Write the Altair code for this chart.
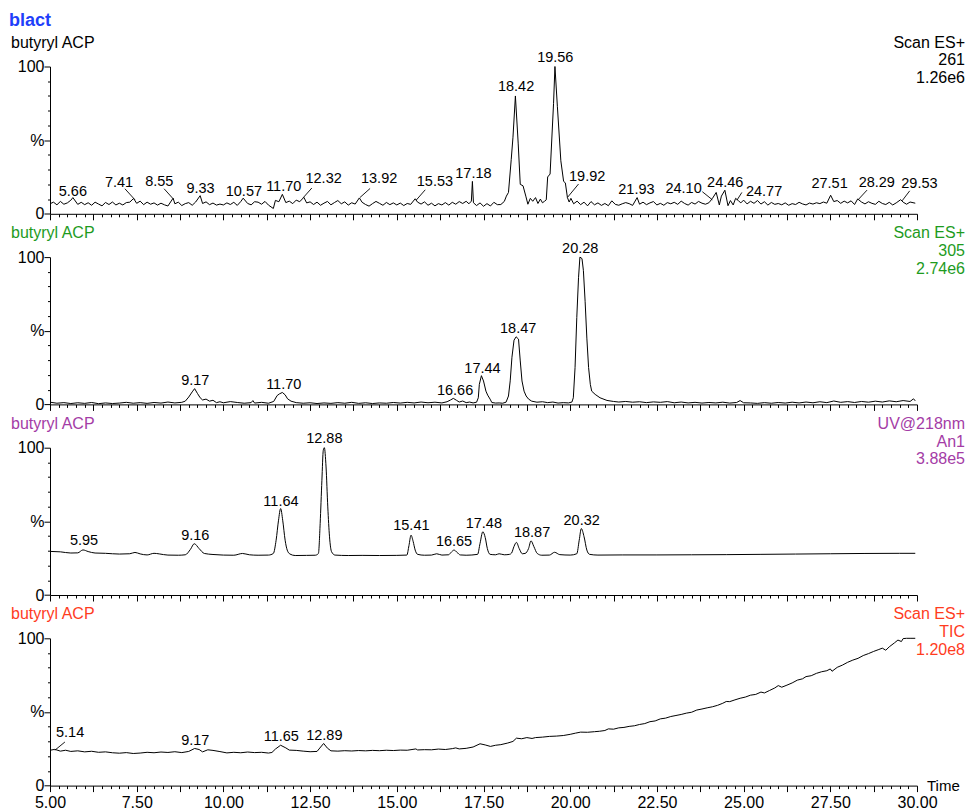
import altair as alt
import pandas as pd

FONT = "Liberation Sans"

# ---------------- data ----------------
# Panel 1: Scan ES+ 261
P1_T = [5.0, 5.1, 5.2, 5.3, 5.4, 5.5, 5.6, 5.66, 5.8, 5.9,
        6.0, 6.1, 6.2, 6.3, 6.4, 6.5, 6.6, 6.7, 6.8, 6.9,
        7.0, 7.1, 7.2, 7.3, 7.41, 7.5, 7.6, 7.7, 7.8, 7.9,
        8.0, 8.1, 8.2, 8.3, 8.4, 8.55, 8.6, 8.7, 8.8, 8.9,
        9.0, 9.1, 9.2, 9.33, 9.4, 9.5, 9.6, 9.7, 9.8, 9.9,
        10.0, 10.1, 10.2, 10.3, 10.4, 10.5, 10.57, 10.7, 10.8, 10.9,
        11.0, 11.1, 11.2, 11.3, 11.44, 11.5, 11.6, 11.70, 11.8, 11.9,
        12.0, 12.1, 12.2, 12.32, 12.4, 12.5, 12.6, 12.7, 12.8, 12.9,
        13.0, 13.1, 13.2, 13.3, 13.4, 13.5, 13.6, 13.7, 13.8, 13.92,
        14.0, 14.1, 14.2, 14.3, 14.4, 14.5, 14.6, 14.7, 14.8, 14.9,
        15.0, 15.1, 15.2, 15.3, 15.4, 15.53, 15.6, 15.7, 15.8, 15.9,
        16.0, 16.1, 16.2, 16.3, 16.4, 16.5, 16.6, 16.7, 16.8, 16.9,
        17.0, 17.08, 17.15, 17.18, 17.21, 17.3, 17.4, 17.5, 17.6, 17.7, 17.8, 17.9,
        18.0, 18.1, 18.16, 18.22, 18.30, 18.35, 18.42, 18.50, 18.56, 18.64, 18.72, 18.78, 18.85, 18.92,
        19.0, 19.07, 19.14, 19.2, 19.26, 19.31, 19.35, 19.42, 19.52, 19.56, 19.63, 19.73, 19.81, 19.86, 19.92, 19.97,
        20.02, 20.1, 20.2, 20.3, 20.4, 20.5, 20.6, 20.7, 20.8, 20.9,
        21.0, 21.1, 21.2, 21.3, 21.4, 21.5, 21.6, 21.7, 21.8, 21.93,
        22.0, 22.1, 22.2, 22.3, 22.4, 22.5, 22.6, 22.7, 22.8, 22.9,
        23.0, 23.1, 23.2, 23.3, 23.4, 23.5, 23.6, 23.7, 23.8, 23.9,
        24.0, 24.10, 24.21, 24.30, 24.36, 24.46, 24.55, 24.62, 24.70, 24.77, 24.85, 24.92,
        25.0, 25.1, 25.2, 25.3, 25.4, 25.5, 25.6, 25.7, 25.8, 25.9,
        26.0, 26.1, 26.2, 26.3, 26.4, 26.5, 26.6, 26.7, 26.8, 26.9,
        27.0, 27.1, 27.2, 27.3, 27.4, 27.51, 27.6, 27.7, 27.8, 27.9,
        28.0, 28.1, 28.2, 28.29, 28.4, 28.5, 28.6, 28.7, 28.8, 28.9,
        29.0, 29.1, 29.2, 29.3, 29.4, 29.53, 29.6, 29.7, 29.8, 29.95]
P1_V = [6.8, 7.9, 6.1, 8.4, 6.5, 7.4, 9.2, 11.0, 6.4, 7.8,
        6.2, 7.5, 5.8, 7.9, 6.6, 5.4, 7.7, 6.3, 8.0, 6.0,
        7.2, 6.0, 7.6, 7.9, 10.4, 7.1, 8.6, 6.2, 7.9, 6.5,
        7.4, 5.9, 7.2, 6.1, 5.3, 10.6, 6.8, 7.9, 5.6, 6.9,
        7.6, 5.8, 8.0, 12.3, 7.0, 8.1, 6.2, 7.3, 5.9, 6.6,
        6.0, 7.4, 6.3, 7.8, 5.7, 8.3, 10.6, 7.0, 6.1, 8.2,
        7.9, 6.5, 8.4, 5.9, 3.6, 9.1, 8.2, 13.2, 7.6, 8.6,
        6.9, 9.3, 8.2, 11.2, 7.4, 8.1, 6.3, 7.9, 5.8, 7.2,
        8.4, 6.1, 7.6, 9.0, 6.8, 8.1, 5.9, 7.5, 6.6, 10.8,
        7.8, 6.3, 5.2, 6.9, 8.4, 7.1, 5.8, 7.7, 6.2, 7.4,
        6.0, 7.3, 5.6, 7.0, 6.4, 10.2, 7.9, 6.6, 8.1, 5.8,
        7.2, 5.4, 6.9, 6.0, 7.6, 5.9, 7.8, 6.5, 8.3, 7.0,
        8.5, 6.8, 8.6, 22.0, 7.5, 5.6, 7.4, 5.1, 6.9, 5.3, 7.8, 6.2,
        6.3, 8.4, 12.0, 14.5, 37.0, 52.0, 80.0, 48.0, 20.0, 19.0, 12.0, 6.5, 10.5, 8.5,
        11.0, 7.0, 10.0, 7.5, 8.5, 9.5, 25.0, 27.0, 75.0, 100.0, 73.0, 36.0, 22.0, 21.0, 11.0, 8.0,
        10.5, 6.8, 8.6, 6.2, 7.9, 5.4, 8.3, 6.1, 7.4, 5.7,
        7.0, 5.5, 8.8, 6.4, 5.8, 6.8, 7.6, 6.9, 5.7, 11.0,
        6.5, 7.9, 6.2, 7.4, 8.3, 6.0, 7.1, 5.8, 7.6, 6.8,
        7.8, 6.4, 8.6, 7.0, 5.9, 7.7, 6.6, 8.4, 7.2, 6.5,
        7.5, 10.4, 14.5, 6.0, 12.0, 16.0, 5.5, 9.0, 6.0, 10.5, 8.9, 7.4,
        9.3, 6.7, 8.5, 7.1, 9.0, 6.6, 8.2, 5.9, 7.7, 6.4,
        7.0, 6.1, 7.4, 5.8, 6.9, 6.3, 7.8, 6.7, 6.0, 7.3,
        6.6, 7.5, 6.9, 8.0, 7.2, 12.6, 8.3, 9.0, 7.1, 8.6,
        7.4, 8.8, 6.3, 10.1, 8.0, 6.7, 8.2, 7.1, 6.4, 8.5,
        7.0, 6.3, 7.8, 6.0, 7.4, 9.6, 7.9, 6.5, 8.0, 7.2]

# Panel 2: Scan ES+ 305
P2_T = [5.0, 5.2, 5.4, 5.6, 5.8, 6.0, 6.2, 6.4, 6.6, 6.8,
        7.0, 7.2, 7.4, 7.6, 7.8, 8.0, 8.2, 8.4, 8.6, 8.8,
        8.9, 9.0, 9.1, 9.17, 9.25, 9.33, 9.4, 9.5, 9.6, 9.7,
        9.8, 9.9, 10.0, 10.2, 10.4, 10.6, 10.8, 10.85, 10.9, 11.1,
        11.3, 11.45, 11.55, 11.62, 11.70, 11.78, 11.85, 11.95, 12.1, 12.3,
        12.5, 12.7, 12.9, 13.1, 13.3, 13.5, 13.7, 13.9, 14.1, 14.3,
        14.5, 14.7, 14.9, 15.1, 15.3, 15.5, 15.7, 15.9, 16.1, 16.3,
        16.45, 16.55, 16.63, 16.72, 16.8, 16.9, 17.0, 17.1, 17.2, 17.3,
        17.35, 17.38, 17.44, 17.50, 17.57, 17.62, 17.69, 17.74, 17.85, 17.95,
        18.05, 18.15, 18.22, 18.27, 18.32, 18.38, 18.44, 18.51, 18.56, 18.61,
        18.67, 18.73, 18.80, 18.89, 19.04, 19.2, 19.35, 19.5, 19.65, 19.8,
        19.95, 20.05, 20.09, 20.14, 20.19, 20.24, 20.28, 20.34, 20.38, 20.43,
        20.48, 20.53, 20.58, 20.62, 20.72, 20.86, 21.06, 21.25, 21.4, 21.6,
        21.8, 22.0, 22.2, 22.4, 22.6, 22.8, 23.0, 23.2, 23.4, 23.6,
        23.8, 24.0, 24.2, 24.4, 24.6, 24.8, 24.9, 25.0, 25.2, 25.4,
        25.6, 25.8, 26.0, 26.2, 26.4, 26.6, 26.8, 27.0, 27.2, 27.4,
        27.6, 27.8, 28.0, 28.2, 28.4, 28.6, 28.8, 29.0, 29.2, 29.4,
        29.6, 29.8, 29.9, 29.95]
P2_V = [1.5, 0.8, 1.2, 0.6, 1.1, 0.7, 1.3, 0.5, 1.0, 0.6,
        0.9, 1.4, 0.8, 1.2, 0.7, 1.3, 0.9, 1.6, 1.0, 1.4,
        2.2, 5.0, 8.5, 10.7, 7.5, 4.5, 3.0, 3.6, 2.2, 2.8,
        1.2, 1.8, 1.1, 1.9, 1.3, 0.8, 1.2, 2.6, 0.9, 1.4,
        0.8, 2.0, 6.0, 7.2, 8.1, 6.5, 3.8, 2.2, 1.2, 0.8,
        1.1, 0.6, 1.0, 0.7, 1.2, 0.8, 1.4, 0.7, 1.1, 0.6,
        1.0, 0.8, 1.3, 0.9, 1.4, 1.0, 1.6, 1.1, 1.5, 1.0,
        1.8, 3.0, 4.1, 2.8, 1.6, 2.3, 1.2, 1.6, 1.0, 1.5,
        4.5, 13.6, 19.5, 15.9, 9.0, 6.3, 3.6, 1.3, 0.9, 1.0,
        0.8, 1.5, 5.7, 16.0, 32.0, 43.6, 45.9, 44.3, 29.5, 15.9,
        9.0, 5.7, 3.6, 2.2, 1.5, 1.8, 1.2, 1.6, 0.9, 1.2,
        1.0, 1.6, 4.5, 25.0, 59.0, 86.0, 100.0, 99.0, 91.0, 70.0,
        45.0, 25.0, 13.6, 9.0, 6.8, 4.5, 2.7, 2.0, 1.6, 2.0,
        1.5, 1.8, 1.2, 1.7, 1.4, 1.9, 1.1, 1.6, 1.0, 1.4,
        0.9, 1.3, 1.0, 1.5, 0.9, 1.3, 2.6, 1.1, 1.0, 0.7,
        1.2, 0.8, 1.3, 0.9, 1.5, 1.0, 1.6, 1.1, 1.8, 1.2,
        2.3, 1.4, 1.9, 1.3, 2.0, 1.5, 2.2, 1.6, 2.4, 1.8,
        2.6, 2.0, 3.8, 2.4]

# Panel 3: UV@218nm An1
P3_T = [5.0, 5.3, 5.6, 5.8, 5.95, 6.1, 6.3, 6.6, 7.0, 7.3,
        7.45, 7.6, 7.8, 8.0, 8.15, 8.4, 8.7, 8.9, 9.05, 9.16,
        9.3, 9.45, 9.7, 10.0, 10.3, 10.55, 10.75, 11.0, 11.3, 11.44,
        11.52, 11.59, 11.65, 11.71, 11.78, 11.84, 11.92, 12.07, 12.4, 12.65,
        12.74, 12.79, 12.84, 12.88, 12.91, 12.96, 13.01, 13.06, 13.12, 13.22,
        13.6, 14.0, 14.5, 15.0, 15.29, 15.35, 15.41, 15.47, 15.53, 15.6,
        15.8, 16.0, 16.15, 16.3, 16.49, 16.58, 16.65, 16.74, 16.83, 17.0,
        17.33, 17.40, 17.48, 17.55, 17.61, 17.69, 17.85, 17.95, 18.1, 18.25,
        18.31, 18.38, 18.45, 18.53, 18.62, 18.70, 18.80, 18.87, 18.95, 19.05,
        19.18, 19.4, 19.55, 19.7, 20.0, 20.19, 20.26, 20.32, 20.40, 20.48,
        20.56, 20.8, 21.5, 22.5, 23.5, 24.5, 25.5, 26.5, 27.5, 28.5,
        29.5, 29.95]
P3_V = [29.6, 29.3, 28.5, 28.6, 30.6, 29.5, 28.5, 28.3, 27.8, 28.0,
        28.9, 27.9, 27.2, 28.3, 27.9, 27.1, 27.0, 27.3, 31.0, 34.8,
        31.5, 28.2, 27.5, 27.1, 27.0, 28.2, 27.3, 27.0, 27.1, 28.2,
        37.2, 50.8, 58.7, 50.8, 37.2, 30.5, 27.8, 26.8, 26.9, 27.0,
        28.2, 48.5, 77.9, 98.2, 100.0, 86.9, 59.8, 39.5, 29.3, 27.1,
        26.8, 26.9, 26.8, 26.9, 27.1, 33.5, 40.6, 36.5, 30.5, 27.6,
        27.0, 27.1, 28.0, 27.1, 27.3, 29.3, 30.5, 28.9, 27.2, 27.0,
        27.6, 35.0, 42.9, 39.0, 31.6, 27.6, 27.3, 28.0, 27.3, 27.6,
        28.5, 33.0, 35.7, 31.5, 28.0, 28.2, 31.6, 36.8, 33.0, 28.2,
        27.0, 27.1, 29.0, 27.4, 27.1, 28.0, 37.2, 45.1, 39.5, 30.5,
        27.6, 27.1, 27.2, 27.2, 27.3, 27.4, 27.6, 27.8, 28.0, 28.2,
        28.3, 28.3]

# Panel 4: Scan ES+ TIC
P4_T = [5.0, 5.14, 5.3, 5.45, 5.6, 5.8, 6.0, 6.2, 6.4, 6.6,
        6.8, 7.0, 7.2, 7.4, 7.6, 7.8, 8.0, 8.2, 8.4, 8.6,
        8.8, 9.0, 9.17, 9.3, 9.4, 9.55, 9.7, 9.9, 10.1, 10.3,
        10.5, 10.7, 10.9, 11.1, 11.3, 11.4, 11.5, 11.65, 11.8, 11.9,
        12.1, 12.3, 12.5, 12.7, 12.78, 12.89, 13.0, 13.1, 13.3, 13.5,
        13.7, 13.9, 14.1, 14.3, 14.5, 14.7, 14.9, 15.1, 15.3, 15.55,
        15.6, 15.8, 16.0, 16.2, 16.4, 16.6, 16.7, 16.8, 17.0, 17.2,
        17.4, 17.55, 17.7, 17.85, 18.0, 18.2, 18.35, 18.45, 18.6, 18.75,
        18.9, 19.0, 19.2, 19.4, 19.6, 19.8, 20.0, 20.15, 20.3, 20.5,
        20.7, 20.85, 21.0, 21.1, 21.25, 21.4, 21.55, 21.7, 21.85, 22.0,
        22.15, 22.3, 22.45, 22.6, 22.75, 22.9, 23.05, 23.2, 23.35, 23.5,
        23.65, 23.8, 23.95, 24.1, 24.25, 24.4, 24.5, 24.6, 24.75, 24.9,
        25.05, 25.2, 25.35, 25.5, 25.6, 25.75, 25.9, 26.0, 26.1, 26.25,
        26.4, 26.55, 26.7, 26.8, 26.95, 27.1, 27.25, 27.4, 27.5, 27.55,
        27.7, 27.85, 28.0, 28.15, 28.3, 28.45, 28.6, 28.75, 28.9, 29.0,
        29.1, 29.2, 29.35, 29.45, 29.55, 29.6, 29.7, 29.8, 29.95]
P4_V = [24.0, 24.6, 23.4, 24.0, 23.2, 23.6, 22.9, 23.3, 22.6, 22.9,
        22.3, 22.0, 22.4, 21.8, 22.1, 22.6, 22.3, 22.8, 22.5, 23.0,
        22.4, 23.2, 25.2, 24.5, 22.9, 24.3, 23.9, 23.1, 22.2, 22.6,
        22.3, 22.8, 22.4, 22.6, 22.1, 22.5, 24.8, 27.4, 25.6, 24.1,
        23.9, 23.4, 23.0, 23.2, 25.5, 28.6, 25.4, 23.6, 23.4, 23.7,
        23.5, 23.8, 23.6, 23.9, 23.7, 24.0, 23.8, 24.1, 24.0, 24.9,
        24.2, 24.4, 24.3, 24.8, 24.5, 25.1, 25.6, 24.9, 25.3, 26.2,
        28.4, 27.6, 26.6, 27.4, 27.8, 28.9, 30.0, 32.2, 31.8, 32.6,
        32.0, 32.6, 32.9, 33.4, 33.6, 34.0, 34.8, 35.6, 36.3, 36.2,
        36.6, 36.9, 37.4, 38.5, 38.3, 39.2, 39.5, 40.2, 40.6, 41.5,
        42.1, 43.4, 43.9, 45.3, 45.8, 46.9, 47.6, 48.3, 49.2, 49.8,
        51.3, 52.0, 52.8, 53.5, 54.5, 55.9, 57.1, 57.0, 58.2, 59.3,
        60.1, 61.4, 61.9, 63.5, 62.9, 64.6, 66.3, 67.9, 66.8, 68.2,
        69.7, 71.6, 72.5, 74.0, 74.6, 76.2, 77.3, 78.0, 79.2, 77.6,
        80.3, 81.8, 83.7, 85.2, 86.4, 88.3, 89.6, 91.1, 92.4, 93.3,
        91.9, 94.2, 96.9, 98.8, 97.8, 99.8, 100.0, 100.0, 100.0]

# Peak labels: text, label centre time, label centre height (%)
P1_LABELS = ["5.66", "7.41", "8.55", "9.33", "10.57", "11.70", "12.32", "13.92", "15.53", "17.18",
             "18.42", "19.56", "19.92", "21.93", "24.10", "24.46", "24.77", "27.51", "28.29", "29.53"]
P1_LX = [5.66, 6.99, 8.15, 9.34, 10.59, 11.74, 12.89, 14.49, 16.10, 17.21,
         18.44, 19.57, 20.49, 21.91, 23.27, 24.47, 25.59, 27.48, 28.84, 30.07]
P1_LY = [14.6, 20.6, 21.3, 16.8, 14.5, 17.9, 23.3, 23.3, 21.6, 27.0,
         85.9, 105.6, 25.3, 16.2, 16.7, 21.0, 15.1, 20.1, 20.7, 20.1]
# Leader lines (label end -> peak)
P1_L_T1 = [7.16, 8.29, 12.55, 14.23, 15.82, 20.24, 23.81, 24.95, 28.56, 29.79]
P1_L_Y1 = [17.0, 17.0, 17.5, 17.2, 16.3, 20.2, 15.0, 14.5, 16.1, 15.6]
P1_L_T2 = [7.45, 8.55, 12.30, 13.94, 15.56, 19.92, 24.10, 24.81, 28.32, 29.57]
P1_L_Y2 = [9.5, 10.2, 10.9, 11.1, 9.3, 11.1, 9.5, 9.3, 10.0, 8.8]

P2_LABELS = ["9.17", "11.70", "16.66", "17.44", "18.47", "20.28"]
P2_LX = [9.19, 11.74, 16.68, 17.47, 18.50, 20.29]
P2_LY = [15.7, 13.4, 9.4, 24.1, 51.1, 105.4]

P3_LABELS = ["5.95", "9.16", "11.64", "12.88", "15.41", "16.65", "17.48", "18.87", "20.32"]
P3_LX = [5.98, 9.19, 11.66, 12.91, 15.42, 16.65, 17.51, 18.90, 20.33]
P3_LY = [36.7, 39.8, 62.8, 105.8, 46.6, 35.9, 48.2, 42.1, 50.4]

P4_LABELS = ["5.14", "9.17", "11.65", "12.89"]
P4_LX = [5.58, 9.19, 11.67, 12.91]
P4_LY = [35.6, 30.3, 32.9, 33.7]
P4_L_T1 = [5.43]
P4_L_Y1 = [29.6]
P4_L_T2 = [5.14]
P4_L_Y2 = [24.0]

TITLE = "blact"
SAMPLE = "butyryl ACP"
P1_CORNER = ["Scan ES+", "261", "1.26e6"]
P2_CORNER = ["Scan ES+", "305", "2.74e6"]
P3_CORNER = ["UV@218nm", "An1", "3.88e5"]
P4_CORNER = ["Scan ES+", "TIC", "1.20e8"]

BLACK = "#000000"
GREEN = "#1e9b1e"
PURPLE = "#a43ca6"
RED = "#ff3c1e"
BLUE = "#1f3ffa"

# ---------------- layout ----------------
W = 867
H = 147.3
GAP = 42.6

XTICKS = [5 + 0.25 * i for i in range(101)]
YTICKS = [10 * i for i in range(11)]
ONE = pd.DataFrame({"k": [0]})


def panel(T, V, labs, lx, ly, leaders, color, corner, bottom, interp, head=False):
    xs = alt.Scale(domain=[5, 30], nice=False, zero=False)
    ys = alt.Scale(domain=[0, 100], nice=False, zero=True)
    xaxis = alt.Axis(
        values=XTICKS,
        tickSize={"condition": {"test": "datum.value % 1.25 === 0", "value": 6}, "value": 3},
        labels=bottom,
        labelExpr="datum.value % 2.5 === 0 ? format(datum.value, '.2f') : ''",
        labelPadding=2.5, labelOverlap=False, labelFlush=False, labelFontSize=16,
        grid=False, title=None,
    )
    yaxis = alt.Axis(
        values=YTICKS,
        tickSize={"condition": {"test": "datum.value % 50 === 0", "value": 6}, "value": 2.5},
        labelExpr="datum.value === 100 ? '100' : datum.value === 50 ? '%' : datum.value === 0 ? '0' : ''",
        labelPadding=0, labelOverlap=False, labelFlush=False, labelFontSize=16,
        grid=False, title=None,
    )
    df = pd.DataFrame({"t": T, "v": V})
    line = alt.Chart(df).mark_line(color=BLACK, strokeWidth=1, interpolate=interp).encode(
        x=alt.X("t:Q", scale=xs, axis=xaxis),
        y=alt.Y("v:Q", scale=ys, axis=yaxis),
    )
    ldf = pd.DataFrame({"s": labs, "lx": lx, "ly": ly})
    text = alt.Chart(ldf).mark_text(
        font=FONT, fontSize=14.5, color=BLACK, align="center", baseline="middle"
    ).encode(
        x=alt.X("lx:Q", scale=xs, axis=xaxis),
        y=alt.Y("ly:Q", scale=ys, axis=yaxis),
        text="s:N",
    )
    layers = [line, text]
    if leaders is not None:
        t1, y1, t2, y2 = leaders
        rdf = pd.DataFrame({"t1": t1, "y1": y1, "t2": t2, "y2": y2})
        rules = alt.Chart(rdf).mark_rule(color=BLACK, strokeWidth=0.9).encode(
            x=alt.X("t1:Q", scale=xs, axis=xaxis),
            y=alt.Y("y1:Q", scale=ys, axis=yaxis),
            x2="t2:Q", y2="y2:Q",
        )
        layers.append(rules)
    layers.append(
        alt.Chart(ONE).mark_text(font=FONT, fontSize=16, color=color, align="left", baseline="middle")
        .encode(x=alt.value(-39), y=alt.value(-24), text=alt.value(SAMPLE))
    )
    for i, s in enumerate(corner):
        layers.append(
            alt.Chart(ONE).mark_text(font=FONT, fontSize=16, color=color, align="right", baseline="middle")
            .encode(x=alt.value(W + 48), y=alt.value(-24 + 17.8 * i), text=alt.value(s))
        )
    if head:
        layers.append(
            alt.Chart(ONE).mark_text(font=FONT, fontSize=18, fontWeight="bold", color=BLUE,
                                     align="left", baseline="middle")
            .encode(x=alt.value(-41), y=alt.value(-46), text=alt.value(TITLE))
        )
    if bottom:
        layers.append(
            alt.Chart(ONE).mark_text(font=FONT, fontSize=15, color=BLACK, align="left", baseline="middle")
            .encode(x=alt.value(W + 10), y=alt.value(H + 0.5), text=alt.value("Time"))
        )
    return alt.layer(*layers).properties(width=W, height=H)


p1 = panel(P1_T, P1_V, P1_LABELS, P1_LX, P1_LY, (P1_L_T1, P1_L_Y1, P1_L_T2, P1_L_Y2),
           BLACK, P1_CORNER, False, "linear", head=True)
p2 = panel(P2_T, P2_V, P2_LABELS, P2_LX, P2_LY, None, GREEN, P2_CORNER, False, "linear")
p3 = panel(P3_T, P3_V, P3_LABELS, P3_LX, P3_LY, None, PURPLE, P3_CORNER, False, "monotone")
p4 = panel(P4_T, P4_V, P4_LABELS, P4_LX, P4_LY, (P4_L_T1, P4_L_Y1, P4_L_T2, P4_L_Y2),
           RED, P4_CORNER, True, "linear")

chart = (
    alt.vconcat(p1, p2, p3, p4, spacing=GAP, bounds="flush")
    .properties(padding={"left": 9, "top": 11.5, "right": 2, "bottom": 2}, background="white")
    .configure_view(stroke=None)
    .configure_axis(domainColor=BLACK, tickColor=BLACK, labelColor=BLACK, labelFont=FONT,
                    domainWidth=1, tickWidth=1)
)

chart.save("out.html", embed_options={"renderer": "svg", "actions": False})
